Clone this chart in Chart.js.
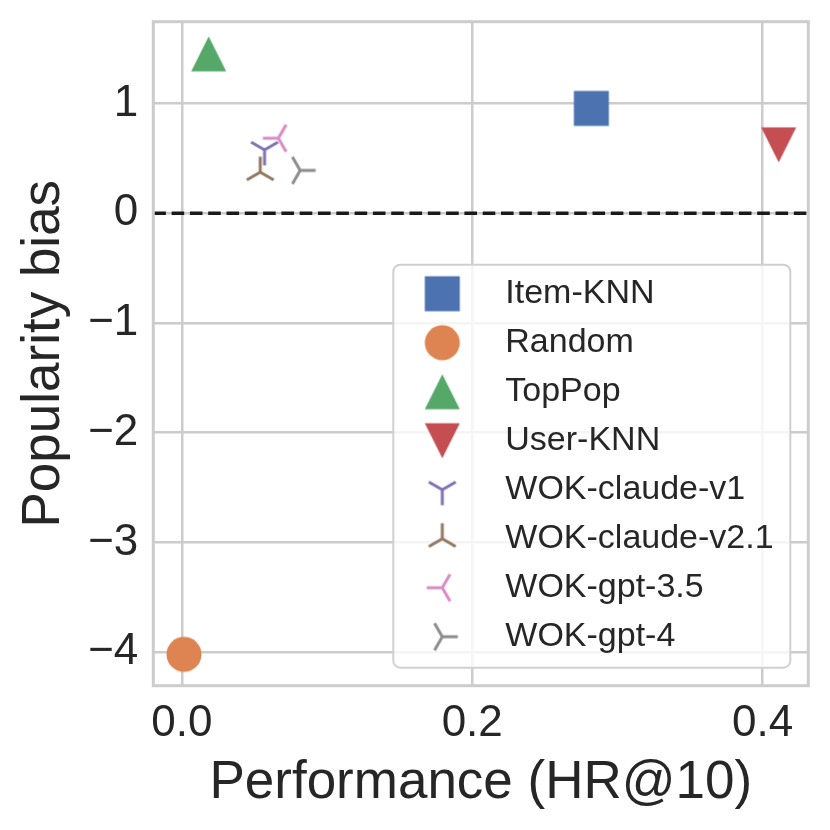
<!DOCTYPE html>
<html>
<head>
<meta charset="utf-8">
<script src="https://cdn.jsdelivr.net/npm/chart.js@4.4.0/dist/chart.umd.min.js"></script>
<style>
  html, body { margin: 0; padding: 0; background: #fff; }
  #wrap { width: 830px; height: 830px; }
</style>
</head>
<body>
<div id="wrap"><canvas id="chartCanvas" width="830" height="830"></canvas></div>
<script>
// Valores
var metodos = ["Item-KNN", "Random", "TopPop", "User-KNN", "WOK-claude-v1", "WOK-claude-v2.1", "WOK-gpt-3.5", "WOK-gpt-4"];
var rendimiento = [0.282, 0.0015, 0.0185, 0.411, 0.057, 0.054, 0.0665, 0.0815];
var sesgo = [0.955, -4.02, 1.452, 0.623, 0.577, 0.374, 0.683, 0.390];
var xTicks = [0.0, 0.2, 0.4];
var xTickLabels = ["0.0", "0.2", "0.4"];
var yTicks = [-4, -3, -2, -1, 0, 1];
var xLim = [-0.0196, 0.4314];
var yLim = [-4.306, 1.745];

// Estilos (paleta "deep" de seaborn y marcadores de matplotlib)
var colores = ["#4C72B0", "#DD8452", "#55A868", "#C44E52", "#8172B3", "#937860", "#DA8BC3", "#8C8C8C"];
var marcadores = ["square", "circle", "triangle_up", "triangle_down", "tri_down", "tri_up", "tri_left", "tri_right"];

var fuente = "'Liberation Sans', Arial, Helvetica, sans-serif";
var colorTexto = "#262626";

// Dibuja cada marcador en un canvas pequeño para usarlo como pointStyle
function crearMarcador(tipo, color) {
  var c = document.createElement("canvas");
  c.width = 40;
  c.height = 40;
  var g = c.getContext("2d");
  var m = 20, h = 17.5;
  g.fillStyle = color;
  g.strokeStyle = color;
  g.lineWidth = 3;
  if (tipo === "square") {
    g.fillRect(m - h, m - h, 2 * h, 2 * h);
  } else if (tipo === "circle") {
    g.beginPath();
    g.arc(m, m, h, 0, 2 * Math.PI);
    g.fill();
  } else if (tipo === "triangle_up" || tipo === "triangle_down") {
    var s = tipo === "triangle_up" ? 1 : -1;
    g.beginPath();
    g.moveTo(m, m - s * h);
    g.lineTo(m - h, m + s * h);
    g.lineTo(m + h, m + s * h);
    g.closePath();
    g.fill();
  } else {
    // direccion del brazo principal en grados de pantalla
    var ang = { tri_down: 90, tri_up: -90, tri_left: 180, tri_right: 0 }[tipo];
    var r = 15.5;
    g.beginPath();
    for (var k = 0; k < 3; k++) {
      var a = (ang + 120 * k) * Math.PI / 180;
      g.moveTo(m, m);
      g.lineTo(m + r * Math.cos(a), m + r * Math.sin(a));
    }
    g.stroke();
  }
  return c;
}

var imagenes = marcadores.map(function (t, i) { return crearMarcador(t, colores[i]); });

var datasets = metodos.map(function (nombre, i) {
  return {
    type: "scatter",
    label: nombre,
    data: [{ x: rendimiento[i], y: sesgo[i] }],
    pointStyle: imagenes[i],
    pointRadius: 17,
    pointHoverRadius: 17,
    backgroundColor: colores[i],
    borderColor: colores[i],
    order: 1
  };
});

// Línea discontinua en y = 0
datasets.push({
  type: "line",
  label: "cero",
  data: [{ x: xLim[0], y: 0 }, { x: xLim[1], y: 0 }],
  borderColor: "#1a1a1a",
  borderWidth: 3.4,
  borderDash: [12.6, 5.7],
  pointRadius: 0,
  fill: false,
  order: 0
});

// Marco de los ejes y leyenda dentro del área del gráfico
var marcoYLeyenda = {
  id: "marcoYLeyenda",
  afterDraw: function (chart) {
    var a = chart.chartArea;
    var ctx = chart.ctx;
    ctx.save();
    ctx.strokeStyle = "#cccccc";
    ctx.lineWidth = 3;
    ctx.strokeRect(a.left, a.top, a.right - a.left, a.bottom - a.top);

    var w = 397, h = 403, rad = 7;
    var x0 = a.right - 18 - w, y0 = a.bottom - 18 - h;
    ctx.beginPath();
    ctx.moveTo(x0 + rad, y0);
    ctx.arcTo(x0 + w, y0, x0 + w, y0 + h, rad);
    ctx.arcTo(x0 + w, y0 + h, x0, y0 + h, rad);
    ctx.arcTo(x0, y0 + h, x0, y0, rad);
    ctx.arcTo(x0, y0, x0 + w, y0, rad);
    ctx.closePath();
    ctx.fillStyle = "rgba(255,255,255,0.8)";
    ctx.fill();
    ctx.strokeStyle = "#d0d0d0";
    ctx.lineWidth = 2;
    ctx.stroke();

    ctx.font = "34px " + fuente;
    ctx.fillStyle = colorTexto;
    ctx.textAlign = "left";
    ctx.textBaseline = "alphabetic";
    metodos.forEach(function (nombre, i) {
      var yy = y0 + 29 + 49 * i;
      var img = imagenes[i];
      ctx.drawImage(img, x0 + 49 - img.width / 2, yy - img.height / 2);
      ctx.fillText(nombre, x0 + 112, yy + 9.5);
    });
    ctx.restore();
  }
};

var chartConfig = {
  type: "scatter",
  data: { datasets: datasets },
  plugins: [marcoYLeyenda],
  options: {
    responsive: false,
    animation: false,
    events: [],
    layout: { padding: { left: 0, top: 21.7, right: 21.7, bottom: 0 } },
    plugins: {
      legend: { display: false },
      tooltip: { enabled: false }
    },
    scales: {
      x: {
        type: "linear",
        min: xLim[0],
        max: xLim[1],
        afterBuildTicks: function (s) { s.ticks = xTicks.map(function (v) { return { value: v }; }); },
        afterFit: function (s) { s.height = 144.3; s.paddingLeft = 0; s.paddingRight = 0; },
        grid: { color: "#cccccc", lineWidth: 2.5, drawTicks: false },
        border: { display: false },
        ticks: {
          padding: 12,
          color: colorTexto,
          font: { family: fuente, size: 44 },
          callback: function (v, i) { return xTickLabels[i]; }
        },
        title: {
          display: true,
          text: "Performance (HR@10)",
          color: colorTexto,
          font: { family: fuente, size: 53 },
          padding: { top: 0, bottom: 15 }
        }
      },
      y: {
        type: "linear",
        min: yLim[0],
        max: yLim[1],
        afterBuildTicks: function (s) { s.ticks = yTicks.map(function (v) { return { value: v }; }); },
        afterFit: function (s) { s.width = 153.3; s.paddingTop = 0; s.paddingBottom = 0; },
        grid: { color: "#cccccc", lineWidth: 2.5, drawTicks: false },
        border: { display: false },
        ticks: {
          padding: 15,
          color: colorTexto,
          font: { family: fuente, size: 44 },
          callback: function (v) { return v < 0 ? "\u2212" + Math.abs(v) : String(v); }
        },
        title: {
          display: true,
          text: "Popularity bias",
          color: colorTexto,
          font: { family: fuente, size: 53 },
          padding: { top: 13, bottom: 0 }
        }
      }
    }
  }
};

var myChart = new Chart(document.getElementById("chartCanvas").getContext("2d"), chartConfig);
</script>
</body>
</html>
